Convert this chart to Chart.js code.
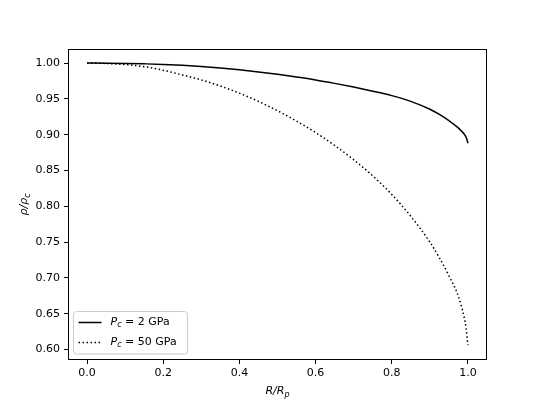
<!DOCTYPE html>
<html>
<head>
<meta charset="utf-8">
<script src="https://cdn.jsdelivr.net/npm/chart.js@4/dist/chart.umd.min.js"></script>
<style>
  html, body { margin: 0; padding: 0; background: #fff; }
  canvas { display: block; }
</style>
</head>
<body>
<canvas id="densityChart" width="540" height="405"></canvas>
<script>
// R / R_p sample positions (shared by both curves)
const R_RATIO = [0, 0.05, 0.1, 0.15, 0.2, 0.25, 0.3, 0.35, 0.4, 0.45, 0.5, 0.55, 0.6,
                 0.65, 0.7, 0.75, 0.8, 0.85, 0.9, 0.925, 0.95, 0.975, 0.99, 0.995, 1.0];
// rho / rho_c for P_c = 2 GPa
const RHO_2GPA = [1.0000, 0.9999, 0.9996, 0.9990, 0.9982, 0.9969, 0.9953, 0.9932, 0.9907, 0.9877, 0.9843, 0.9806, 0.9765,
                  0.9717, 0.9665, 0.9608, 0.9546, 0.9466, 0.9355, 0.9283, 0.9196, 0.9093, 0.9010, 0.8968, 0.888];
// rho / rho_c for P_c = 50 GPa
const RHO_50GPA = [1.000, 0.9995, 0.998, 0.995, 0.990, 0.9835, 0.9765, 0.968, 0.958, 0.9465, 0.9335, 0.919, 0.903,
                   0.885, 0.865, 0.8425, 0.8165, 0.786, 0.750, 0.728, 0.703, 0.674, 0.645, 0.630, 0.606];
const PRESSURES = ['2 GPa', '50 GPa'];
const X_TICKS = [0, 0.2, 0.4, 0.6, 0.8, 1.0];
const Y_TICKS = [0.60, 0.65, 0.70, 0.75, 0.80, 0.85, 0.90, 0.95, 1.00];

const FONT = 'DejaVu Sans';
const toPts = (ys) => ys.map((y, i) => ({ x: R_RATIO[i], y }));

// draw "main" italic + subscript, starting at x, baseline y; returns end x
function subText(ctx, main, sub, x, y, size) {
  ctx.font = 'italic ' + size + 'px "' + FONT + '"';
  ctx.fillText(main, x, y);
  x += ctx.measureText(main).width;
  ctx.font = 'italic ' + Math.round(size * 0.72) + 'px "' + FONT + '"';
  ctx.fillText(sub, x, y + size * 0.25);
  return x + ctx.measureText(sub).width;
}
function subWidth(ctx, main, sub, size) {
  ctx.font = 'italic ' + size + 'px "' + FONT + '"';
  const w = ctx.measureText(main).width;
  ctx.font = 'italic ' + Math.round(size * 0.72) + 'px "' + FONT + '"';
  return w + ctx.measureText(sub).width;
}

const decorations = {
  id: 'decorations',
  afterDraw(chart) {
    const { ctx, chartArea: a } = chart;
    ctx.save();
    // axes frame
    ctx.strokeStyle = '#000';
    ctx.lineWidth = 1;
    ctx.strokeRect(a.left + 0.5, a.top + 0.5, a.right - a.left - 1, a.bottom - a.top - 1);

    ctx.fillStyle = '#000';
    ctx.textAlign = 'left';
    ctx.textBaseline = 'alphabetic';
    // x axis title R/R_p
    const xw = subWidth(ctx, 'R/R', 'p', 11);
    subText(ctx, 'R/R', 'p', (a.left + a.right) / 2 - xw / 2, 394, 11);
    // y axis title rho/rho_c
    ctx.translate(27, (a.top + a.bottom) / 2);
    ctx.rotate(-Math.PI / 2);
    const yw = subWidth(ctx, 'ρ/ρ', 'c', 11);
    subText(ctx, 'ρ/ρ', 'c', -yw / 2, 0, 11);
    ctx.setTransform(1, 0, 0, 1, 0, 0);
    ctx.restore();

    // legend
    ctx.save();
    ctx.beginPath();
    ctx.roundRect(73.5, 311.5, 114, 42.5, 3);
    ctx.fillStyle = 'rgba(255,255,255,0.8)';
    ctx.fill();
    ctx.strokeStyle = '#cccccc';
    ctx.lineWidth = 1;
    ctx.stroke();
    chart.data.datasets.forEach((ds, i) => {
      const y = 322.5 + i * 20;
      ctx.beginPath();
      ctx.strokeStyle = ds.borderColor;
      ctx.lineWidth = ds.borderWidth;
      ctx.setLineDash(ds.borderDash || []);
      ctx.lineCap = 'butt';
      ctx.moveTo(78.5, y);
      ctx.lineTo(101.5, y);
      ctx.stroke();
      ctx.setLineDash([]);
      ctx.fillStyle = '#000';
      ctx.textBaseline = 'middle';
      let x = subText(ctx, 'P', 'c', 110.5, y, 11);
      ctx.font = '11px "' + FONT + '"';
      ctx.fillText(' = ' + PRESSURES[i], x, y);
    });
    ctx.restore();
  }
};

const axisStyle = {
  grid: { display: true, drawOnChartArea: false, drawTicks: true, tickLength: 4, color: '#000', lineWidth: 1 },
  border: { display: false },
};

new Chart(document.getElementById('densityChart'), {
  type: 'line',
  data: {
    datasets: [
      { label: 'Pc = ' + PRESSURES[0], data: toPts(RHO_2GPA), borderColor: '#000', borderWidth: 1.5,
        pointRadius: 0, cubicInterpolationMode: 'monotone', fill: false },
      { label: 'Pc = ' + PRESSURES[1], data: toPts(RHO_50GPA), borderColor: '#000', borderWidth: 1.5,
        borderDash: [1.5, 2.5], borderCapStyle: 'butt',
        pointRadius: 0, cubicInterpolationMode: 'monotone', fill: false },
    ]
  },
  options: {
    responsive: false,
    animation: false,
    layout: { padding: { left: 0, top: 49, right: 53, bottom: 0 } },
    plugins: { legend: { display: false }, tooltip: { enabled: false } },
    scales: {
      x: {
        type: 'linear', min: -0.05, max: 1.05,
        ...axisStyle,
        afterBuildTicks: (s) => { s.ticks = X_TICKS.map(v => ({ value: v })); },
        afterFit: (s) => { s.height = 45; },
        ticks: { color: '#000', font: { family: FONT, size: 11 }, padding: 3, maxRotation: 0,
                 callback: (v) => Number(v).toFixed(1) },
      },
      y: {
        type: 'linear', min: 0.5853, max: 1.0197,
        ...axisStyle,
        afterBuildTicks: (s) => { s.ticks = Y_TICKS.map(v => ({ value: v })); },
        afterFit: (s) => { s.width = 68; },
        ticks: { color: '#000', font: { family: FONT, size: 11 }, padding: 4,
                 callback: (v) => Number(v).toFixed(2) },
      }
    }
  },
  plugins: [decorations]
});
</script>
</body>
</html>
